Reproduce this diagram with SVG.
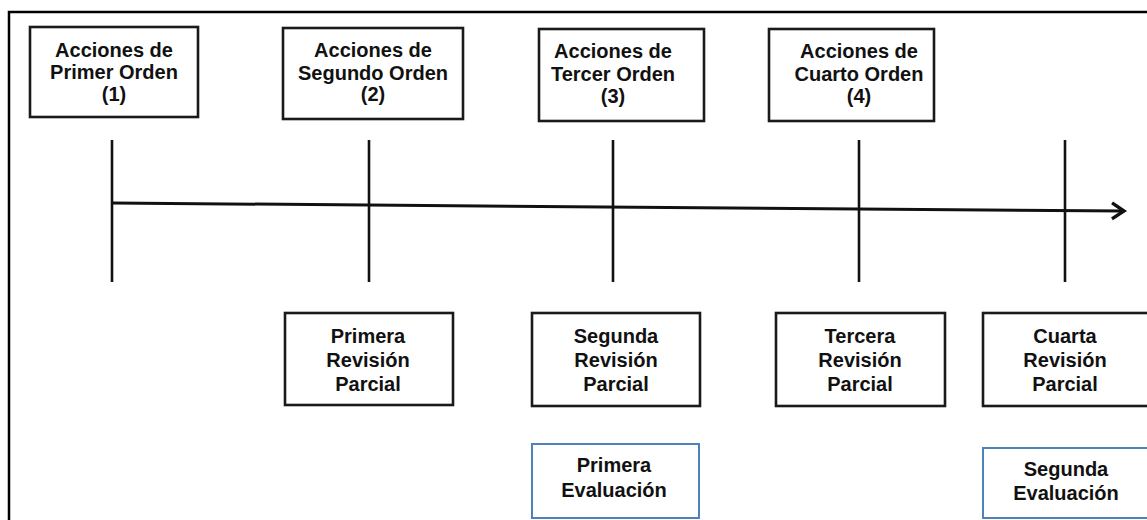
<svg xmlns="http://www.w3.org/2000/svg" width="1147" height="520" viewBox="0 0 1147 520">
<defs>
<style>
.frame{fill:none;stroke:#000;stroke-width:2.5}
.box{fill:#fff;stroke:#1a1a1a;stroke-width:2.6}
.eval{fill:#fff;stroke:#4f81bd;stroke-width:2}
.tick{stroke:#111;stroke-width:2.6;fill:none}
.axis{stroke:#111;stroke-width:3;fill:none}
text{font-family:"Liberation Sans",Arial,sans-serif;font-weight:bold;font-size:20px;fill:#111;text-anchor:middle}
</style>
<marker id="arr" markerUnits="userSpaceOnUse" markerWidth="20" markerHeight="20" viewBox="-16 -10 20 20" refX="0" refY="0" orient="auto">
<path d="M-12,-8 L0,0 L-12,8" fill="none" stroke="#111" stroke-width="3.4" stroke-linejoin="miter"/>
</marker>
</defs>
<rect width="1147" height="520" fill="#fff"/>
<rect class="frame" x="9" y="12" width="1150" height="520"/>

<g id="connectors">
<line class="tick" x1="112" y1="140" x2="112" y2="282"/>
<line class="tick" x1="369" y1="140" x2="369" y2="282"/>
<line class="tick" x1="613" y1="140" x2="613" y2="282"/>
<line class="tick" x1="859" y1="140" x2="859" y2="282"/>
<line class="tick" x1="1065" y1="140" x2="1065" y2="282"/>
<line class="axis" x1="112" y1="203" x2="1124" y2="211" marker-end="url(#arr)"/>
</g>

<g id="accion1">
<rect class="box" x="30" y="27" width="168" height="90"/>
<text x="114" y="57">Acciones de</text>
<text x="114" y="79">Primer Orden</text>
<text x="114" y="101">(1)</text>
</g>
<g id="accion2">
<rect class="box" x="283" y="28" width="180" height="91"/>
<text x="373" y="57">Acciones de</text>
<text x="373" y="80">Segundo Orden</text>
<text x="373" y="101">(2)</text>
</g>
<g id="accion3">
<rect class="box" x="539" y="29" width="165" height="92"/>
<text x="613" y="58">Acciones de</text>
<text x="613" y="81">Tercer Orden</text>
<text x="613" y="103">(3)</text>
</g>
<g id="accion4">
<rect class="box" x="769" y="29" width="165" height="92"/>
<text x="859" y="58">Acciones de</text>
<text x="859" y="81">Cuarto Orden</text>
<text x="859" y="103">(4)</text>
</g>

<g id="revision1">
<rect class="box" x="285" y="313" width="168" height="92"/>
<text x="368" y="343">Primera</text>
<text x="368" y="367">Revisión</text>
<text x="368" y="391">Parcial</text>
</g>
<g id="revision2">
<rect class="box" x="532" y="313" width="168" height="93"/>
<text x="616" y="343">Segunda</text>
<text x="616" y="367">Revisión</text>
<text x="616" y="391">Parcial</text>
</g>
<g id="revision3">
<rect class="box" x="776" y="313" width="169" height="93"/>
<text x="860" y="343">Tercera</text>
<text x="860" y="367">Revisión</text>
<text x="860" y="391">Parcial</text>
</g>
<g id="revision4">
<rect class="box" x="983" y="313" width="170" height="93"/>
<text x="1065" y="343">Cuarta</text>
<text x="1065" y="367">Revisión</text>
<text x="1065" y="391">Parcial</text>
</g>

<g id="evaluacion1">
<rect class="eval" x="532" y="444" width="167" height="74"/>
<text x="614" y="472">Primera</text>
<text x="614" y="497">Evaluación</text>
</g>
<g id="evaluacion2">
<rect class="eval" x="983" y="448" width="170" height="70"/>
<text x="1066" y="476">Segunda</text>
<text x="1066" y="500">Evaluación</text>
</g>
</svg>
